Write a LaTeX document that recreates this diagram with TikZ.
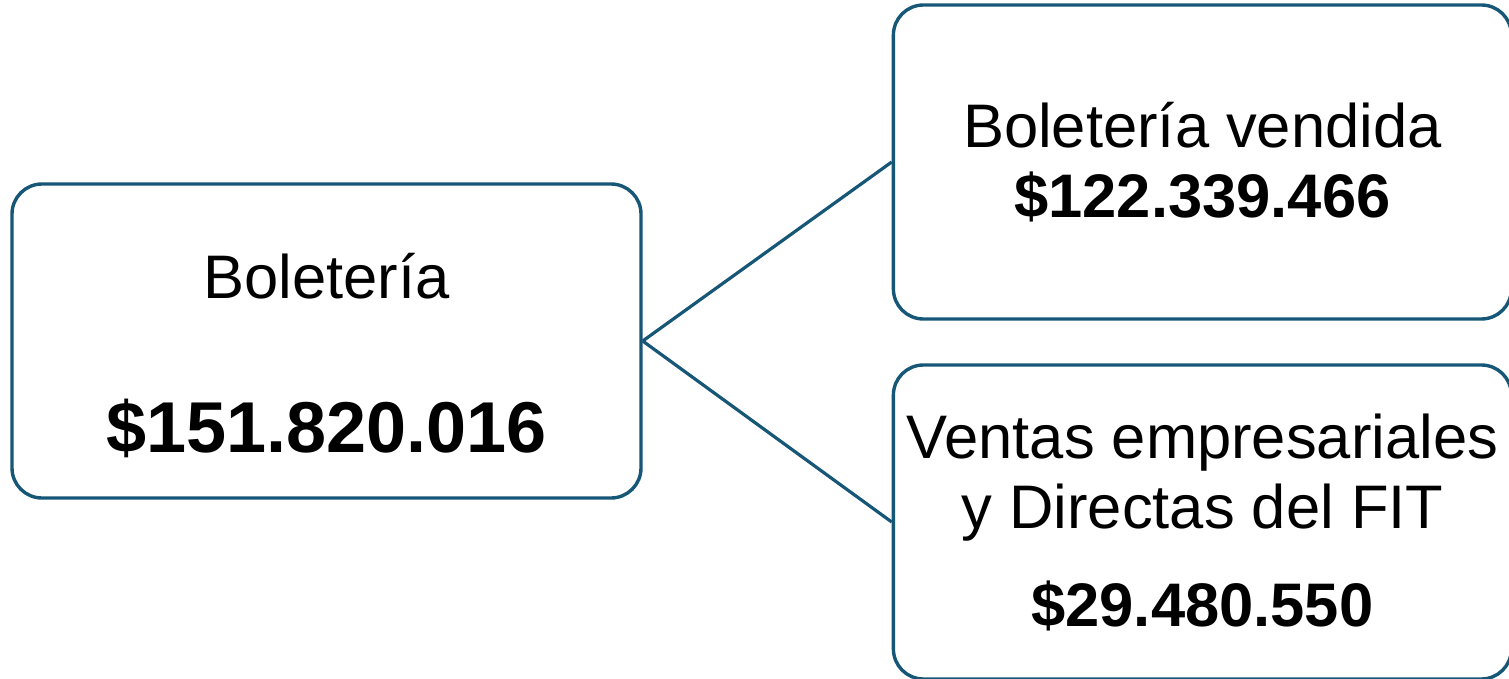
\documentclass[tikz,border=0pt]{standalone}
\usepackage{fontspec}
\setmainfont{Liberation Sans}
\usepackage{xcolor}
\usetikzlibrary{positioning}

\definecolor{boxblue}{RGB}{22,86,118}
\tikzset{
  amount/.style={rectangle, draw=boxblue, line width=3.4pt, rounded corners=30pt, align=center,
    font=\fontsize{61.5}{70}\selectfont},
  link/.style={draw=boxblue, line width=3.2pt}
}

\begin{document}
\begin{tikzpicture}[x=1pt, y=-1pt]
\useasboundingbox (0,0) rectangle (1509,679);
\node[amount, minimum width=629pt, minimum height=314pt] (total) at (326.5,341)
  {\rule{0pt}{75pt}Boletería\\[84pt]{\fontsize{72}{80}\selectfont\bfseries \$151.820.016}};
\node[amount, minimum width=618pt, minimum height=314pt, right=249pt of total, yshift=179pt] (sold)
  {Boletería vendida\\ \textbf{\$122.339.466}};
\node[amount, minimum width=618pt, minimum height=314pt, right=249pt of total, yshift=-181pt] (direct)
  {Ventas empresariales\\ y Directas del FIT\\[28pt] \textbf{\$29.480.550}};

\draw[link] (total.east) -- (sold.west);
\draw[link] (total.east) -- (direct.west);
\end{tikzpicture}
\end{document}
